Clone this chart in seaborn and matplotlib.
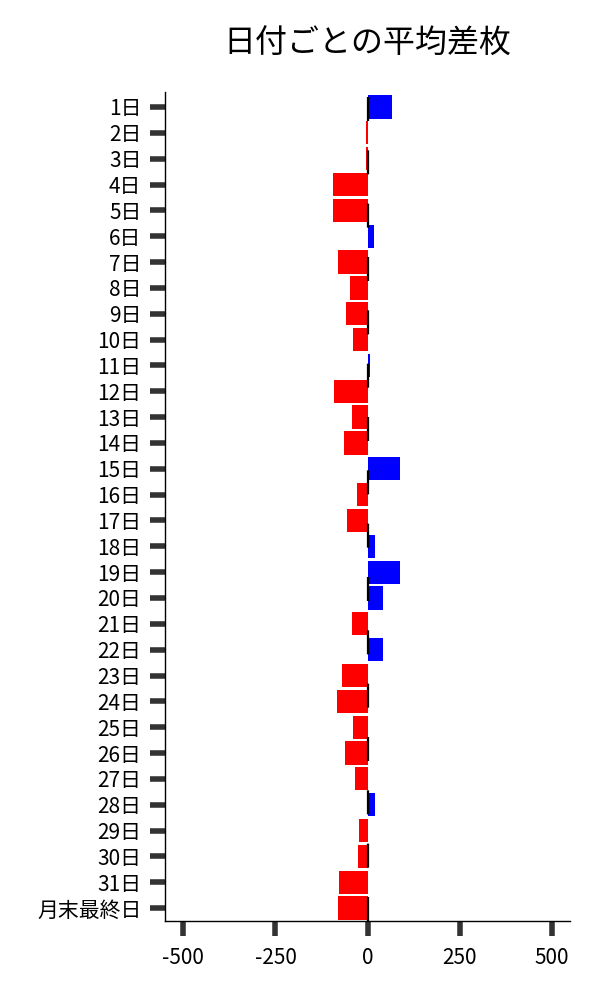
import matplotlib
matplotlib.use("Agg")
import matplotlib.pyplot as plt
import seaborn as sns
import pandas as pd

days = [f"{i}日" for i in range(1, 32)] + ["月末最終日"]
avg_diff = [67, -3, -4, -95, -95, 19, -79, -47, -59, -40,
            8, -92, -43, -65, 87, -29, -56, 21, 87, 43,
            -43, 43, -70, -83, -40, -61, -34, 21, -23, -26,
            -77, -80]
title = "日付ごとの平均差枚"
xticks = [-500, -250, 0, 250, 500]

sns.set_theme(style="ticks")
plt.rcParams['font.family'] = ['Noto Sans CJK JP', 'DejaVu Sans']

df = pd.DataFrame({"day": days, "diff": avg_diff})
colors = ["#0000ff" if v > 0 else "#ff0000" for v in avg_diff]

fig = plt.figure(figsize=(6, 10), dpi=100)
ax = fig.add_axes([0.275, 0.079, 0.675, 0.829])
sns.barplot(data=df, x="diff", y="day", hue="day", palette=colors,
            orient="h", width=0.9, saturation=1, legend=False,
            dodge=False, ax=ax, edgecolor="none", linewidth=0)
ax.axvline(0, color="black", linewidth=1.6, dashes=(10.8, 13.2), zorder=5)

ax.set_xlim(-550, 550)
ax.set_ylim(len(days) - 0.5, -0.58)
ax.set_xticks(xticks)
ax.set_xticklabels([str(t) for t in xticks])
ax.set_xlabel("")
ax.set_ylabel("")
ax.set_title(title, fontsize=23, pad=28, color="black")
ax.tick_params(axis="both", length=11, width=4, color="#333333",
               labelsize=15, labelcolor="black")
ax.tick_params(axis="x", pad=8)
ax.tick_params(axis="y", pad=6)
for s in ["top", "right"]:
    ax.spines[s].set_visible(False)
for s in ["left", "bottom"]:
    ax.spines[s].set_color("black")
    ax.spines[s].set_linewidth(1.0)

fig.savefig("out.png", dpi=100)
